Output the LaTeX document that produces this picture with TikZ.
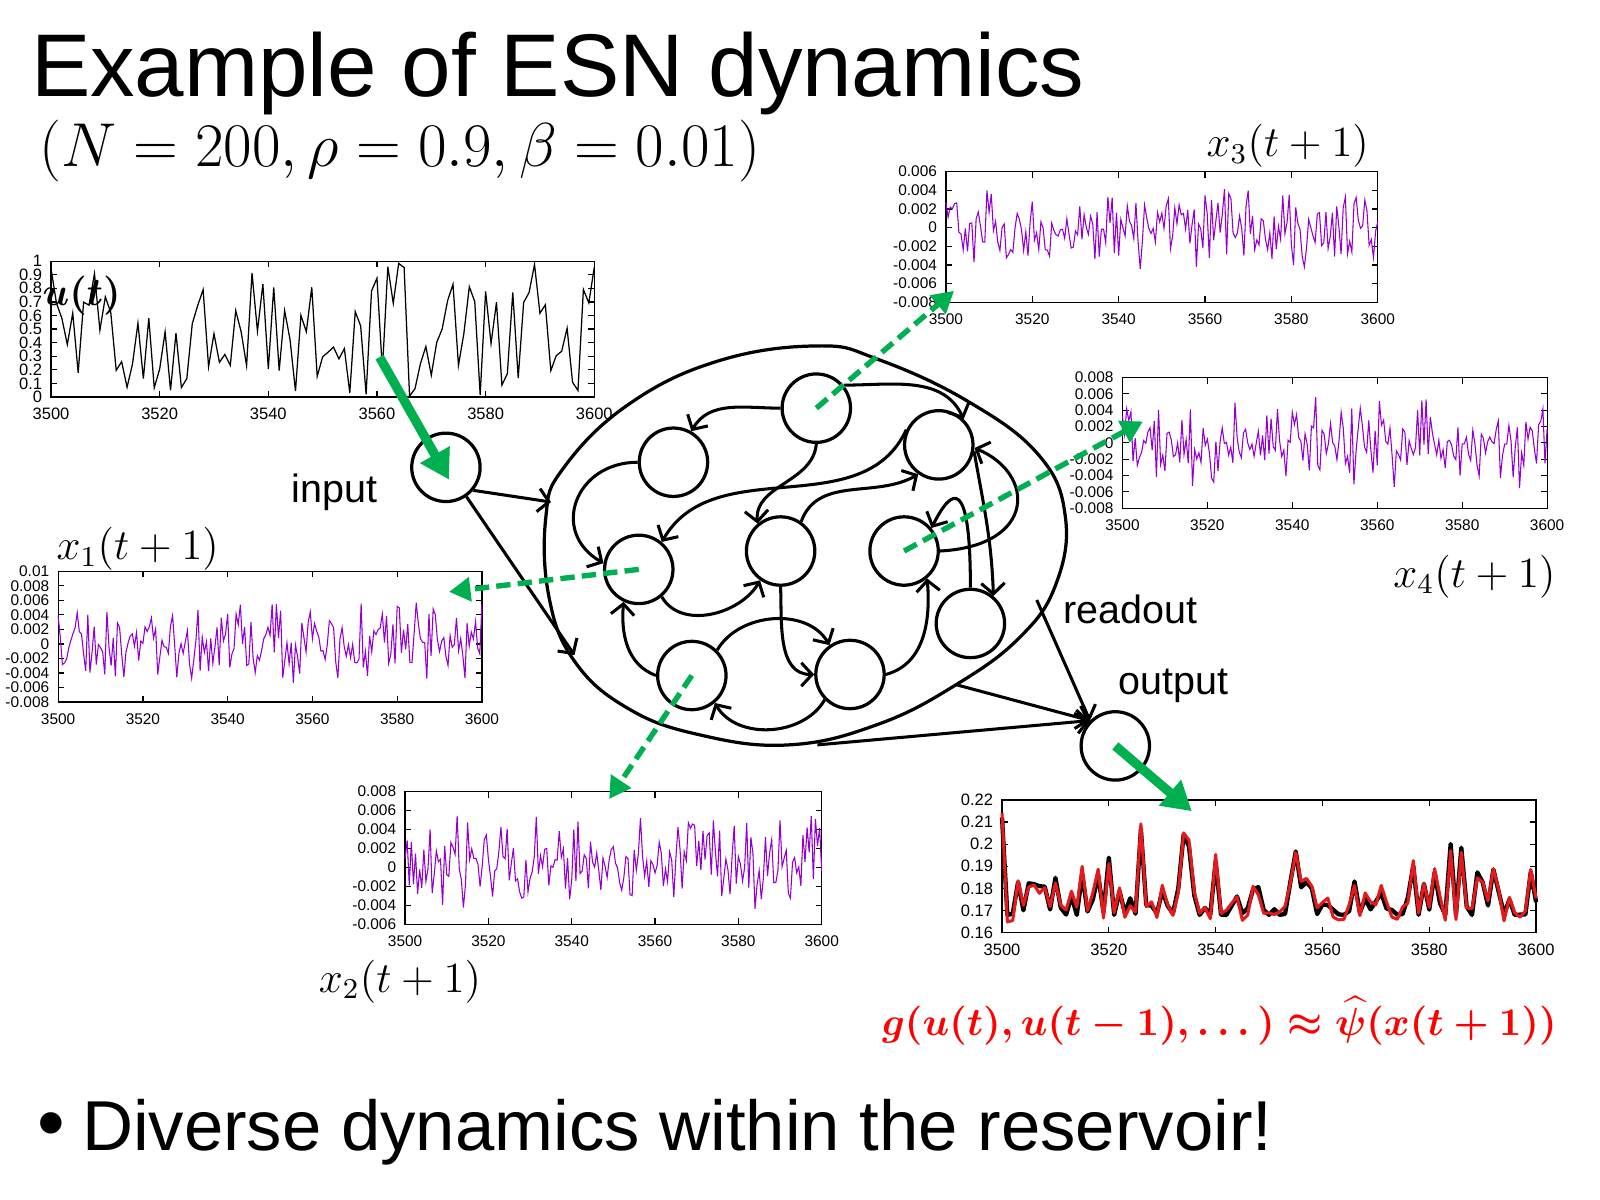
\documentclass[tikz,border=0pt]{standalone}
\usepackage{amsmath}
\usepackage{amssymb}
\usepackage[no-math]{fontspec}
\setmainfont{Liberation Sans}
\usetikzlibrary{positioning,arrows.meta,calc}
\definecolor{probegreen}{RGB}{0,176,80}
\definecolor{statepurple}{RGB}{148,0,211}
\definecolor{fitred}{RGB}{228,26,28}

% frame of one time-series panel: name, ymin, ymax, y ticks
\newcommand{\tsframe}[4]{%
  \draw[frame] (0,#2) rectangle (100,#3);
  \foreach \t/\l in {0/3500,20/3520,40/3540,60/3560,80/3580,100/3600} {
    \draw[frame] (\t,#2) -- ++(0pt,1.7pt) (\t,#3) -- ++(0pt,-1.7pt);
    \node[xlab] (#1x\t) at (\t,#2) {\l};
  }
  \foreach \v/\l in {#4} {
    \draw[frame] (0,\v) -- ++(1.7pt,0pt) (100,\v) -- ++(-1.7pt,0pt);
    \node[ylab] (#1y\v) at (0,\v) {\l};
  }}

\begin{document}
\begin{tikzpicture}[x=0.01cm,y=0.01cm,
    neuron/.style={draw,circle,line width=0.9pt,minimum size=0.67cm,inner sep=0pt},
    link/.style={line width=0.85pt,-{Straight Barb[length=3pt,width=6.5pt]}},
    probe/.style={probegreen,line width=1.5pt,dash pattern=on 4pt off 2pt,-{Triangle[length=6pt,width=6.5pt]}},
    feed/.style={probegreen,line width=2.6pt,-{Triangle[length=8pt,width=9pt]}},
    frame/.style={line width=0.35pt},
    trace/.style={statepurple,line width=0.3pt},
    truth/.style={line width=1.2pt,line join=round},
    fit/.style={fitred,line width=0.85pt,line join=round},
    xlab/.style={below=3pt,inner sep=0pt,font=\fontsize{4.3}{5}\selectfont},
    ylab/.style={left=2.3pt,inner sep=0pt,font=\fontsize{4.3}{5}\selectfont},
    mathlab/.style={font=\fontsize{12}{14}\selectfont},
    word/.style={font=\fontsize{11}{13}\selectfont}]
  \fill[white] (0,0) rectangle (1568,-1176);
  \useasboundingbox (0,0) rectangle (1568,-1176);

  \node[anchor=base west,font=\fontsize{24.8}{28}\selectfont] (title) at (18,-95) {Example of ESN dynamics};
  \node[anchor=west,font=\fontsize{17.8}{20}\selectfont] (params) at (26,-148) {$(N=200,\rho=0.9,\beta=0.01)$};

  % input u(t)
  \begin{scope}[shift={(50,-389)},x=0.0532cm,y=0.133cm,
      xlab/.append style={font=\fontsize{4.6}{5}\selectfont},
      ylab/.append style={font=\fontsize{4.6}{5}\selectfont}]
    \tsframe{u}{0}{10}{0/0,1/0.1,2/0.2,3/0.3,4/0.4,5/0.5,6/0.6,7/0.7,8/0.8,9/0.9,10/1}
    \pgfmathsetseed{11}
    \draw[frame] (0,{10*rnd}) \foreach \t in {1,...,100} { -- (\t,{10*rnd}) };
  \end{scope}
  \node[font=\fontsize{11}{13}\selectfont] (ulab) at (80,-290) {$\boldsymbol{u(t)}$};

  % x3
  \begin{scope}[shift={(927,-223)},x=0.0423cm,y=0.0914cm]
    \tsframe{a}{-8}{6}{6/0.006,4/0.004,2/0.002,0/0,-2/-0.002,-4/-0.004,-6/-0.006,-8/-0.008}
    \pgfmathsetseed{23}
    \draw[trace] (0,{5*(rnd+rnd-1)}) \foreach \t in {1,...,200} { -- ({\t/2},{5*(rnd+rnd-1)}) };
  \end{scope}
  \node[mathlab] (x3lab) at (1262,-143) {$x_3(t+1)$};

  % x4
  \begin{scope}[shift={(1100,-434)},x=0.0416cm,y=0.08cm]
    \tsframe{b}{-8}{8}{8/0.008,6/0.006,4/0.004,2/0.002,0/0,-2/-0.002,-4/-0.004,-6/-0.006,-8/-0.008}
    \pgfmathsetseed{37}
    \draw[trace] (0,{6*(rnd+rnd-1)}) \foreach \t in {1,...,200} { -- ({\t/2},{6*(rnd+rnd-1)}) };
  \end{scope}
  \node[mathlab] (x4lab) at (1445,-565) {$x_4(t+1)$};

  % x1
  \begin{scope}[shift={(57,-631)},x=0.0415cm,y=0.0711cm]
    \tsframe{c}{-8}{10}{10/0.01,8/0.008,6/0.006,4/0.004,2/0.002,0/0,-2/-0.002,-4/-0.004,-6/-0.006,-8/-0.008}
    \pgfmathsetseed{41}
    \draw[trace] (0,{6.5*(rnd+rnd-1)}) \foreach \t in {1,...,200} { -- ({\t/2},{6.5*(rnd+rnd-1)}) };
  \end{scope}
  \node[mathlab] (x1lab) at (135,-538) {$x_1(t+1)$};

  % x2
  \begin{scope}[shift={(397,-850)},x=0.0408cm,y=0.0929cm]
    \tsframe{d}{-6}{8}{8/0.008,6/0.006,4/0.004,2/0.002,0/0,-2/-0.002,-4/-0.004,-6/-0.006}
    \pgfmathsetseed{53}
    \draw[trace] (0,{0.5+5.5*(rnd+rnd-1)}) \foreach \t in {1,...,200} { -- ({\t/2},{0.5+5.5*(rnd+rnd-1)}) };
  \end{scope}
  \node[mathlab] (x2lab) at (392,-962) {$x_2(t+1)$};

  % output
  \begin{scope}[shift={(982,-914)},x=0.0523cm,y=0.2167cm,
      xlab/.append style={font=\fontsize{4.6}{5}\selectfont},
      ylab/.append style={font=\fontsize{4.6}{5}\selectfont}]
    \tsframe{y}{0}{6}{6/0.22,5/0.21,4/0.2,3/0.19,2/0.18,1/0.17,0/0.16}
    \pgfmathsetseed{5}
    \draw[truth] (0,5.2) \foreach \t in {1,...,100} { -- (\t,{0.8+4*pow(rnd,3)+0*(rnd-0.5)}) };
    \pgfmathsetseed{5}
    \draw[fit] (0,5.4) \foreach \t in {1,...,100} { -- (\t,{0.8+4*pow(rnd,3)+0.7*(rnd-0.5)}) };
  \end{scope}
  \node[text=red,font=\fontsize{11.2}{13}\selectfont] (readfn) at (1195,-1000)
    {$\boldsymbol{g(u(t),u(t-1),\dots)\approx\widehat{\psi}(x(t+1))}$};

  % reservoir
  \draw[line width=0.9pt] plot[smooth cycle,tension=0.7] coordinates {
    (801,-339) (860,-352) (948,-393) (1018,-446) (1044,-506) (1035,-572)
    (1000,-624) (937,-671) (860,-710) (773,-730) (685,-720) (615,-694)
    (563,-648) (538,-585) (535,-506) (552,-459) (615,-397) (703,-354)};
  \node[neuron] (r1) at (800,-400) {};
  \node[neuron] (r2) at (660,-453) {};
  \node[neuron] (r3) at (920,-436) {};
  \node[neuron] (r4) at (626,-558) {};
  \node[neuron] (r5) at (765,-540) {};
  \node[neuron] (r6) at (886,-540) {};
  \node[neuron] (r7) at (951,-611) {};
  \node[neuron] (r8) at (678,-662) {};
  \node[neuron] (r9) at (833,-661) {};
  \path (r1) edge[link,out=180,in=60] (r2.60)
        (r1.40) edge[link,out=0,in=115] (r3.46)
        (r1.south) edge[link,out=-95,in=95] (r5.130)
        (r3.155) edge[link,out=-115,in=60] (r4.50)
        (r5.55) edge[link,out=70,in=-150] (r3.235)
        (r2.west) edge[link,out=180,in=150,looseness=1.5] (r4.170)
        (r4.-50) edge[link,out=-60,in=-120] (r5.-125)
        (r8.west) edge[link,out=160,in=-95] (r4.-115)
        (r8.45) edge[link,out=60,in=120] (r9.125)
        (r9.-135) edge[link,out=-120,in=-60] (r8.-50)
        (r5.south) edge[link,out=-88,in=180] (r9.west)
        (r9.east) edge[link,out=15,in=-85] (r6.-50)
        (r3.-10) edge[link,out=-80,in=92] (r7.50);
  \draw[link] (r7.north) .. controls +(0,110) and +(20,40) .. (r6.40);
  \draw[link] (r6.east) .. controls +(95,5) and +(60,-25) .. (r3.-5);

  % input and readout
  \node[neuron] (in) at (437,-458) {};
  \node[neuron] (out) at (1093,-731) {};
  \node[word] (inlab) at (328,-482) {input};
  \node[word] (readlab) at (1108,-597) {readout};
  \node[word] (outlab) at (1150,-672) {output};
  \coordinate (b1) at (540,-492);
  \coordinate (b2) at (563,-642);
  \coordinate (c1) at (937,-671);
  \coordinate (c2) at (1016,-588);
  \coordinate (c3) at (801,-730);
  \draw[link] (in.-40) -- (b1);
  \draw[link] (in.-55) -- (b2);
  \draw[link] (c1) -- (out.135);
  \draw[link] (c2) -- (out.135);
  \draw[link] (c3) -- (out.135);

  % probes
  \coordinate (utap) at (372,-350);
  \coordinate (intip) at (440,-470);
  \coordinate (ytip) at (1168,-795);
  \coordinate (x3tip) at (935,-285);
  \coordinate (x4tip) at (1120,-413);
  \coordinate (x1tip) at (440,-580);
  \coordinate (x2tip) at (597,-783);
  \draw[feed] (utap) -- (intip);
  \draw[feed] (out.center) -- (ytip);
  \draw[probe] (r1.center) -- (x3tip);
  \draw[probe] (r6.center) -- (x4tip);
  \draw[probe] (r4.center) -- (x1tip);
  \draw[probe] (r8.center) -- (x2tip);

  \node[font=\fontsize{22}{24}\selectfont] (dot) at (50,-1108) {\textbullet};
  \node[anchor=west,font=\fontsize{19.7}{22}\selectfont] (remark) at (68,-1110) {Diverse dynamics within the reservoir!};
\end{tikzpicture}
\end{document}
